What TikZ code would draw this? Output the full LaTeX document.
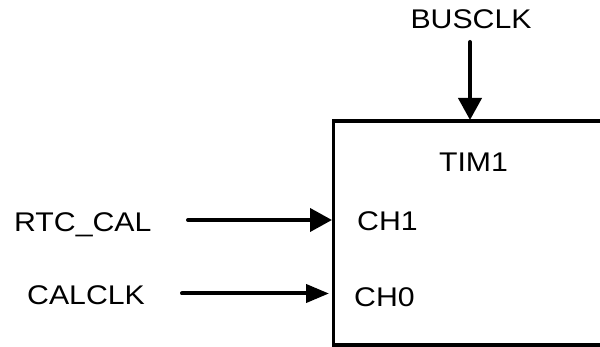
\documentclass[tikz,border=0pt]{standalone}
\usepackage{fontspec}
\setmainfont[FakeStretch=1.12]{Liberation Sans}
\usetikzlibrary{arrows.meta}
\begin{document}
\begin{tikzpicture}[x=1pt,y=-1pt,
  lbl/.style={inner sep=0pt,font=\fontsize{27}{30}\selectfont},
  blockline/.style={line width=3.2pt,line join=miter},
  sig/.style={line width=4pt,line cap=round,
    -{Triangle[length=22pt,width=23pt]}},
  sigsmall/.style={line width=4pt,line cap=round,
    -{Triangle[length=23pt,width=18pt]}}]
  \useasboundingbox (0,0) rectangle (600,347);
  % timer block (continues past the right border)
  \coordinate (tr) at (610,121);
  \coordinate (tl) at (333.5,121);
  \coordinate (bl) at (333.5,345);
  \coordinate (br) at (610,345);
  \draw[blockline] (tr) -- (tl) -- (bl) -- (br);
  \node[lbl,anchor=base] (tim) at (473.5,172) {TIM1};
  \node[lbl,anchor=base west] (ch1) at (357,231) {CH1};
  \node[lbl,anchor=base west] (ch0) at (354,307) {CH0};
  % input signals
  \node[lbl,anchor=base] (busclk) at (471,29) {BUSCLK};
  \node[lbl,anchor=base west] (rtccal) at (14,231.7) {RTC\_CAL};
  \node[lbl,anchor=base west] (calclk) at (27,305) {CALCLK};
  \coordinate (busS) at (470,42);
  \coordinate (busE) at (470,120);
  \coordinate (rtcS) at (188,220);
  \coordinate (rtcE) at (332,220);
  \coordinate (calS) at (182,293.5);
  \coordinate (calE) at (329,293.5);
  \draw[sig] (busS) -- (busE);
  \draw[sig] (rtcS) -- (rtcE);
  \draw[sigsmall] (calS) -- (calE);
\end{tikzpicture}
\end{document}
